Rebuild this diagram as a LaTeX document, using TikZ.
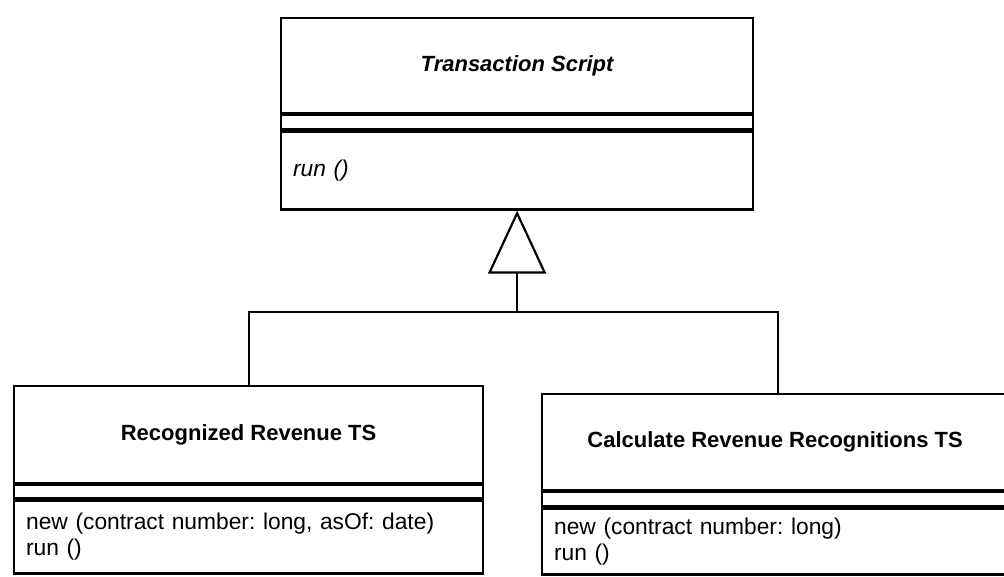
\documentclass[tikz,border=0pt]{standalone}
\usepackage{fontspec}
\setmainfont{Liberation Sans}
\usetikzlibrary{arrows.meta}
\frenchspacing
\begin{document}
\begin{tikzpicture}[x=1pt, y=-1pt,
  compart/.style={draw, line width=2.2pt, inner sep=0pt, anchor=north west},
  classname/.style={compart, font=\fontsize{22}{26}\selectfont\bfseries},
  ops/.style={compart, font=\fontsize{22.8}{26}\selectfont, align=left, inner xsep=12pt},
  link/.style={line width=2.2pt},
  inherit/.style={link, -{Triangle[open, length=63pt, width=58pt, line width=2.2pt]}}]
\useasboundingbox (0,0) rectangle (1004,577);

% abstract superclass
\node[classname, minimum width=472pt, minimum height=95pt] (ts-name) at (280,17) {\itshape Transaction Script};
\node[compart, minimum width=472pt, minimum height=14pt] (ts-attr) at (ts-name.south west) {};
\node[ops, text width=448pt, minimum height=78pt] (ts-ops) at (ts-attr.south west) {\itshape run ()};

% left subclass
\node[classname, minimum width=469pt, minimum height=97pt] (rr-name) at (13,385) {Recognized Revenue TS};
\node[compart, minimum width=469pt, minimum height=13pt] (rr-attr) at (rr-name.south west) {};
\node[ops, text width=445pt, minimum height=73pt] (rr-ops) at (rr-attr.south west) {new (contract number: long, asOf: date)\\run ()};

% right subclass (runs past the right edge)
\node[classname, minimum width=466pt, minimum height=96pt] (crr-name) at (541,393) {Calculate Revenue Recognitions TS};
\node[compart, minimum width=466pt, minimum height=14pt] (crr-attr) at (crr-name.south west) {};
\node[ops, text width=442pt, minimum height=66pt] (crr-ops) at (crr-attr.south west) {new (contract number: long)\\run ()};

% generalization
\coordinate (fork) at (ts-ops.south |- 0,312);
\draw[link] (rr-name.north) |- (fork) -| ([xshift=3pt]crr-name.north);
\draw[inherit] (fork) -- (ts-ops.south);
\end{tikzpicture}
\end{document}
